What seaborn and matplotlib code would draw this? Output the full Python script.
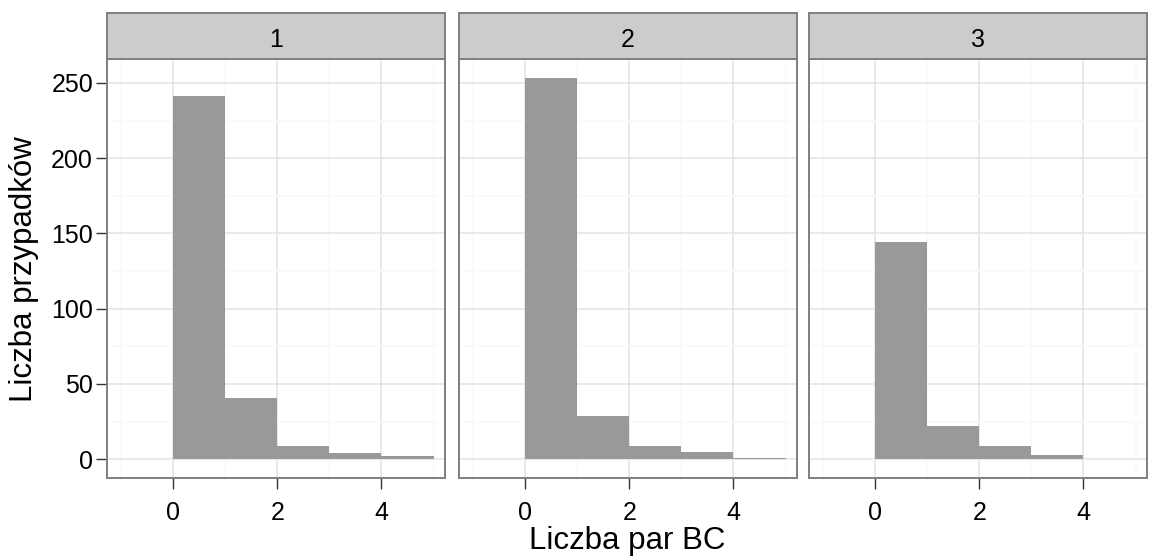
import numpy as np
import pandas as pd
import matplotlib
matplotlib.use("Agg")
import matplotlib.pyplot as plt
from matplotlib.ticker import FixedLocator
import seaborn as sns

# ---- data (counts per bin of width 1, bins start at 0..4) ----
bin_starts = [0, 1, 2, 3, 4]
panel_labels = ["1", "2", "3"]
counts_1 = [241, 41, 9, 4, 2]
counts_2 = [253, 29, 9, 5, 1]
counts_3 = [144, 22, 9, 3, 0]
x_ticks = [0, 2, 4]
y_ticks = [0, 50, 100, 150, 200, 250]
x_title = "Liczba par BC"
y_title = "Liczba przypadków"

sns.set_theme(style="white")
plt.rcParams["font.family"] = ["Liberation Sans", "DejaVu Sans"]

W, H = 1151, 560
fig = plt.figure(figsize=(W / 100, H / 100), dpi=100)

lefts = [107, 459, 809]
pw = 338
p_bottom = H - 478.3
p_h = 419
s_bottom = H - 59.3
s_h = 46

border = "#7F7F7F"
bar_color = "#999999"

all_counts = [counts_1, counts_2, counts_3]
ymax = max(max(c) for c in all_counts)

for i, (lab, cnts) in enumerate(zip(panel_labels, all_counts)):
    ax = fig.add_axes([lefts[i] / W, p_bottom / H, pw / W, p_h / H])
    df = pd.DataFrame({"x": [b + 0.5 for b in bin_starts],
                       "n": [float(c) for c in cnts]})
    sns.histplot(data=df, x="x", weights="n", binwidth=1, binrange=(0, 5),
                 ax=ax, color=bar_color, alpha=1, edgecolor="none",
                 linewidth=0)
    ax.set_xlim(-1.27, 5.22)
    ax.set_ylim(-0.05 * ymax, 1.05 * ymax)
    ax.xaxis.set_major_locator(FixedLocator(x_ticks))
    ax.xaxis.set_minor_locator(FixedLocator([-1, 1, 3, 5]))
    ax.yaxis.set_major_locator(FixedLocator(y_ticks))
    ax.yaxis.set_minor_locator(FixedLocator([25, 75, 125, 175, 225]))
    ax.grid(True, which="major", color="#E5E5E5", linewidth=1.2)
    ax.grid(True, which="minor", color="#FAFAFA", linewidth=1.2)
    ax.set_axisbelow(True)
    ax.set_facecolor("white")
    for sp in ax.spines.values():
        sp.set_color(border)
        sp.set_linewidth(1.4)
        sp.set_visible(True)
    ax.set_xlabel("")
    ax.set_ylabel("")
    ax.tick_params(axis="x", which="major", length=8, width=1.0,
                   color="#333333", labelsize=18, labelcolor="black", pad=8.5,
                   bottom=True)
    ax.tick_params(axis="y", which="major", length=8, width=1.0,
                   color="#333333", labelsize=18, labelcolor="black", pad=2,
                   left=(i == 0))
    ax.tick_params(axis="both", which="minor", length=0)
    if i > 0:
        ax.set_yticklabels([])
    else:
        ax.set_yticklabels([str(v) for v in y_ticks])
    ax.set_xticklabels([str(v) for v in x_ticks])

    # strip
    sax = fig.add_axes([lefts[i] / W, s_bottom / H, pw / W, s_h / H])
    sax.set_facecolor("#CCCCCC")
    sax.set_xticks([])
    sax.set_yticks([])
    for sp in sax.spines.values():
        sp.set_color(border)
        sp.set_linewidth(1.4)
        sp.set_visible(True)
    sax.text(0.5, 0.41, lab, ha="center", va="center", fontsize=18,
             color="black", transform=sax.transAxes)

fig.text(627.5 / W, (H - 541) / H, x_title, ha="center", va="center",
         fontsize=22.5, color="black")
fig.text(24 / W, (H - 269) / H, y_title, ha="center", va="center",
         rotation=90, fontsize=22.5, color="black")

fig.savefig("out.png", dpi=100, facecolor="white")
